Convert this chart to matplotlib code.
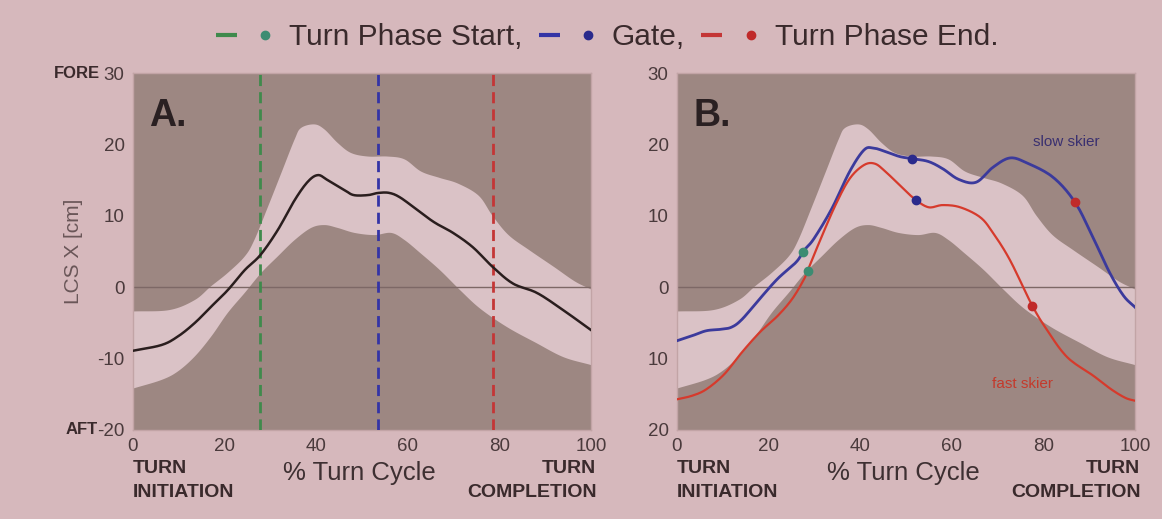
import numpy as np
import matplotlib
matplotlib.use("Agg")
import matplotlib.pyplot as plt
from matplotlib.lines import Line2D
from matplotlib.legend_handler import HandlerTuple

plt.rcParams['font.family'] = ['Liberation Sans', 'DejaVu Sans']

# ---------------- data ----------------
band_upper_x = [0, 8, 13.5, 17, 20.7, 24.4, 26.5, 29.5, 32.4, 35.3, 36.7, 39.6, 41.8, 44.7,
                47.6, 51.3, 55.6, 59.3, 62.9, 67, 71, 75.5, 78.5, 82, 86.5, 92, 96.5, 100]
band_upper = [-3.4, -3.2, -1.8, 0.1, 2.0, 4.3, 6.6, 11.3, 16.0, 20.7, 22.3, 22.8, 22.1, 20.2,
              18.8, 18.3, 18.3, 17.9, 16.2, 15.3, 14.5, 12.8, 10.0, 7.3, 5.2, 2.8, 0.8, -0.3]
band_lower_x = [0, 6.2, 9.8, 13.5, 17.1, 20.7, 24.4, 28, 31.6, 35.3, 38.9, 41.8, 44.7, 48.4,
                52.7, 56.4, 59.3, 62.7, 67, 71.4, 75.8, 81.7, 88, 94, 100]
band_lower = [-14.2, -13, -11.8, -9.7, -6.9, -3.6, -0.8, 2.0, 4.3, 6.6, 8.3, 8.7, 8.3, 7.6,
              7.3, 7.6, 6.6, 4.8, 2.4, -0.4, -3.0, -5.6, -7.8, -9.8, -10.9]

mean_x = [0, 6.2, 9.8, 13.5, 17.1, 20.7, 24.4, 27.8, 31.6, 35.3, 38.2, 40.4, 42.5, 46.2, 48.2,
          51.3, 53.5, 56, 58.5, 62.7, 66, 69.9, 74.2, 78.6, 83, 88.2, 93.9, 100]
mean_y = [-8.9, -8.1, -6.9, -5.0, -2.7, -0.4, 2.4, 4.5, 8.0, 12.2, 14.8, 15.7, 15.0, 13.6, 12.9,
          12.9, 13.2, 13.2, 12.5, 10.5, 9.0, 7.6, 5.6, 2.8, 0.5, -0.8, -3.2, -6.0]

slow_x = [0, 3.3, 6.4, 9.5, 11.9, 14.2, 18.1, 22, 26, 27.8, 29.9, 33.8, 37.7, 40.8, 42.8, 45.5,
          48.6, 51.4, 54.9, 58, 61.5, 65.3, 69, 72.7, 76.4, 82.1, 86.9, 90.8, 94.5, 97.5, 100]
slow_y = [-7.5, -6.8, -6.1, -5.9, -5.6, -4.5, -1.6, 1.2, 3.5, 5.2, 6.8, 11, 16.2, 19.2, 19.5, 19.0,
          18.3, 18.0, 17.6, 16.6, 15.1, 14.7, 16.8, 18.1, 17.4, 15.4, 11.9, 7.0, 2.0, -1.2, -2.8]

fast_x = [0, 3.3, 6.4, 10.3, 14.2, 18.1, 22, 25.2, 27.8, 28.7, 31.4, 34.6, 37.7, 40.8, 43.2, 45.5,
          48.6, 51.8, 54.9, 58, 61.8, 66.2, 69, 72.7, 77.5, 80.8, 85.2, 90.9, 94.8, 97.9, 100]
fast_y = [-15.7, -15.2, -14.3, -12.2, -9.1, -6.3, -4.0, -1.6, 1.2, 2.6, 6.8, 11.5, 15.2, 17.1, 17.3,
          16.2, 14.3, 12.4, 11.2, 11.5, 11.2, 9.8, 7.6, 3.8, -2.5, -6.0, -9.8, -12.4, -14.3, -15.5, -15.9]

phase_lines = [27.8, 53.4, 78.6]
slow_marker_x = [27.5, 51.3, 86.9]
slow_marker_y = [5.0, 17.9, 11.9]
fast_marker_x = [28.6, 52.2, 77.5]
fast_marker_y = [2.3, 12.2, -2.7]

phase_names = ["Turn Phase Start,", "Gate,", "Turn Phase End."]
x_ticks = [0, 20, 40, 60, 80, 100]
y_ticks = [30, 20, 10, 0, -10, -20]
y_labels_a = ["30", "20", "10", "0", "-10", "-20"]
y_labels_b = ["30", "20", "10", "0", "10", "20"]

# ---------------- style ----------------
BG = "#d6b8bc"
AX_BG = "#9d8782"
BAND = "#dac2c6"
TXT = "#3a2a2c"
TICK = "#4a3a3c"
phase_line_colors = ["#3f8a4c", "#3434a6", "#c43636"]
phase_dot_colors = ["#3c8c72", "#2a2a8c", "#c02a2a"]
SLOW = "#3b3a9c"
FAST = "#d63a2c"


def smooth(x, y, n=12):
    """Catmull-Rom rendering of a polyline through the given points."""
    x = np.asarray(x, float)
    y = np.asarray(y, float)
    px = np.concatenate([[2 * x[0] - x[1]], x, [2 * x[-1] - x[-2]]])
    py = np.concatenate([[2 * y[0] - y[1]], y, [2 * y[-1] - y[-2]]])
    t = np.linspace(0, 1, n, endpoint=False)
    ox, oy = [], []
    for i in range(1, len(px) - 2):
        for arr, out in ((px, ox), (py, oy)):
            p0, p1, p2, p3 = arr[i - 1], arr[i], arr[i + 1], arr[i + 2]
            out.extend(0.5 * ((2 * p1) + (-p0 + p2) * t + (2 * p0 - 5 * p1 + 4 * p2 - p3) * t ** 2
                              + (-p0 + 3 * p1 - 3 * p2 + p3) * t ** 3))
    ox.append(x[-1])
    oy.append(y[-1])
    return np.array(ox), np.array(oy)


fig = plt.figure(figsize=(11.62, 5.19), dpi=100, facecolor=BG)
W, H = 1162, 519
axA = fig.add_axes([133 / W, 1 - 430 / H, 458 / W, 357 / H])
axB = fig.add_axes([677 / W, 1 - 430 / H, 458 / W, 357 / H])

ux, uy = smooth(band_upper_x, band_upper)
lx, ly = smooth(band_lower_x, band_lower)

for ax, ylabels in ((axA, y_labels_a), (axB, y_labels_b)):
    ax.set_facecolor(AX_BG)
    ax.fill(np.concatenate([ux, lx[::-1]]), np.concatenate([uy, ly[::-1]]),
            color=BAND, lw=0, zorder=1)
    ax.axhline(0, color="#7d6866", lw=1.0, zorder=2)
    ax.set_xlim(0, 100)
    ax.set_ylim(-20, 30)
    ax.set_xticks(x_ticks)
    ax.set_yticks(y_ticks)
    ax.set_yticklabels(ylabels)
    ax.tick_params(length=0, labelsize=13.5, labelcolor=TICK, pad=6)
    for s in ax.spines.values():
        s.set_color("#c2a4a6")
        s.set_linewidth(1.0)
    ax.text(0, -0.085, "TURN\nINITIATION", transform=ax.transAxes, ha="left", va="top",
            fontsize=14, fontweight="bold", color=TXT, linespacing=1.55)
    ax.text(1.012, -0.085, "TURN\nCOMPLETION", transform=ax.transAxes, ha="right", va="top",
            fontsize=14, fontweight="bold", color=TXT, linespacing=1.55)
    ax.text(0.495, -0.088, "% Turn Cycle", transform=ax.transAxes, ha="center", va="top",
            fontsize=18.5, color="#3e3032")

# Panel A
mx, my = smooth(mean_x, mean_y)
axA.plot(mx, my, color="#2a1e1e", lw=1.8, zorder=4)
for xv, c in zip(phase_lines, phase_line_colors):
    axA.axvline(xv, color=c, lw=2.0, ls=(0, (4, 2.2)), zorder=3)
axA.text(0.035, 0.93, "A.", transform=axA.transAxes, fontsize=27, fontweight="bold",
         color="#2a2022", va="top")
axA.set_ylabel("LCS X [cm]", fontsize=15, color="#6a5658", labelpad=10)
fig.text(100 / W, 1 - 73 / H, "FORE", ha="right", va="center", fontsize=12,
         fontweight="bold", color=TXT)
fig.text(98 / W, 1 - 430 / H, "AFT", ha="right", va="center", fontsize=12,
         fontweight="bold", color=TXT)

# Panel B
sx, sy = smooth(slow_x, slow_y)
fx, fy = smooth(fast_x, fast_y)
axB.plot(sx, sy, color=SLOW, lw=2.0, zorder=4)
axB.plot(fx, fy, color=FAST, lw=1.6, zorder=4)
for i in range(3):
    axB.plot(slow_marker_x[i], slow_marker_y[i], "o", color=phase_dot_colors[i], ms=6, zorder=5)
    axB.plot(fast_marker_x[i], fast_marker_y[i], "o", color=phase_dot_colors[i], ms=6, zorder=5)
axB.text(0.035, 0.93, "B.", transform=axB.transAxes, fontsize=27, fontweight="bold",
         color="#2a2022", va="top")
axB.text(85, 20.3, "slow skier", fontsize=11, color="#3a3070", ha="center", va="center", zorder=6)
axB.text(75.5, -13.6, "fast skier", fontsize=11, color="#c43a2c", ha="center", va="center", zorder=6)

# Top legend
handles = []
for lc, dc in zip(phase_line_colors, phase_dot_colors):
    handles.append((Line2D([], [], color=lc, lw=3, solid_capstyle="butt"),
                    Line2D([], [], color=dc, marker="o", ls="none", ms=6)))
fig.legend(handles, phase_names, loc="center", bbox_to_anchor=(607 / W, 1 - 37 / H),
           ncol=3, frameon=False, fontsize=21.5, labelcolor="#3a2a2c",
           handler_map={tuple: HandlerTuple(ndivide=None, pad=0.6)},
           handlelength=2.0, handletextpad=0.45, columnspacing=0.55)

fig.savefig("out.png", dpi=100, facecolor=BG)
